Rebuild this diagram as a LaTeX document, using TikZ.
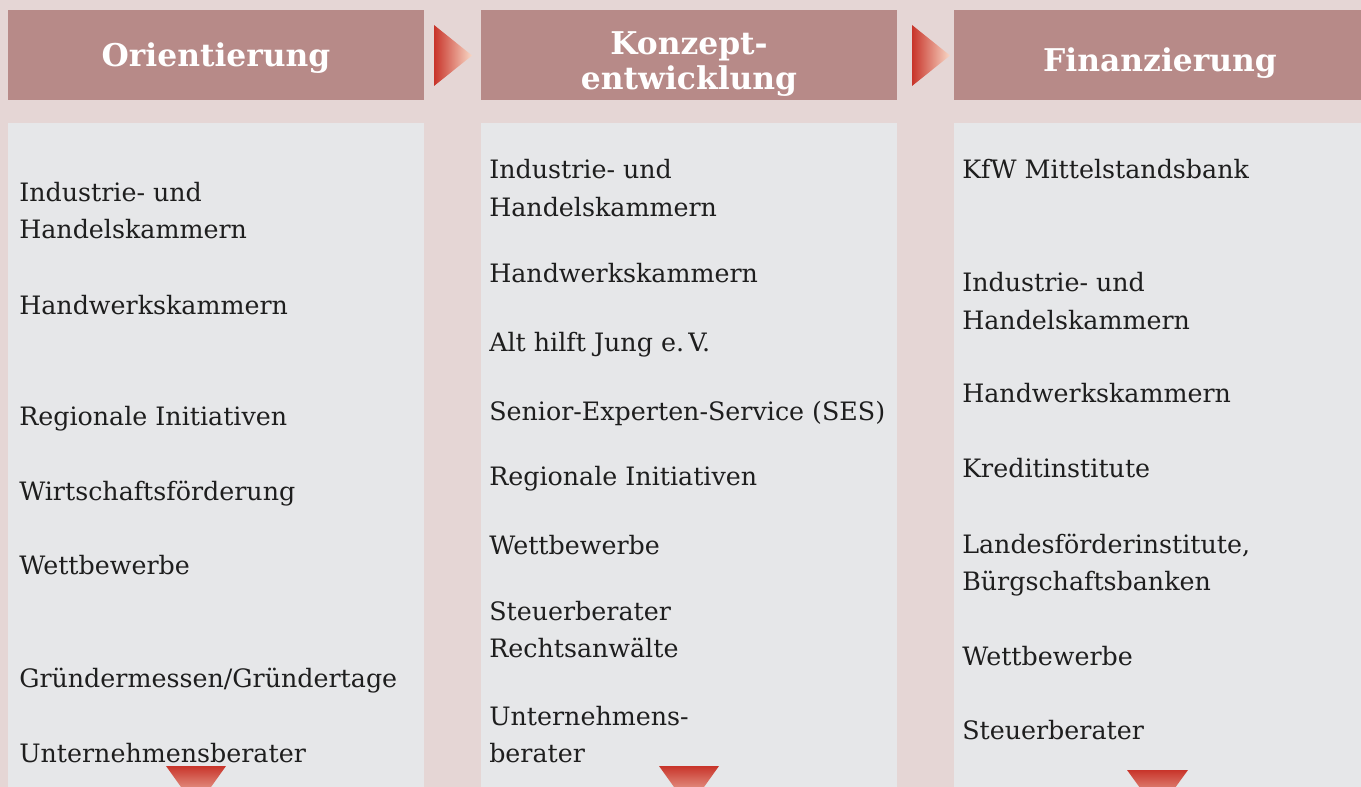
\documentclass[tikz,border=0pt]{standalone}
\usepackage{fontspec}
\setmainfont{DejaVu Serif}
\definecolor{bgc}{HTML}{E5D6D5}
\definecolor{hdrc}{HTML}{B78A88}
\definecolor{colc}{HTML}{E6E7E9}
\definecolor{triA}{HTML}{C8342A}
\definecolor{triB}{HTML}{F8D8C6}
\definecolor{txtc}{HTML}{1E1E1E}
\begin{document}
\begin{tikzpicture}[x=0.75pt,y=-0.75pt,
  item/.style={anchor=mid west, inner sep=0, font=\fontsize{19}{22}\selectfont, text=txtc, yshift=-3.7pt},
  head/.style={text=white, font=\bfseries\fontsize{23.5}{26.5}\selectfont, inner sep=0, align=center, yshift=-2.3pt},
  hdrbox/.style={fill=hdrc},
  colbox/.style={fill=colc},
  rtri/.style={left color=triA, right color=triB},
  dtri/.style={top color=triA, bottom color=triB}]
\useasboundingbox (0,0) rectangle (1361,787);
\clip (0,0) rectangle (1361,787);
\fill[bgc] (0,0) rectangle (1361,787);
% headers
\path[hdrbox] (8,10) rectangle (424,100);
\path[hdrbox] (481,10) rectangle (897,100);
\path[hdrbox] (954,10) rectangle (1361,100);
% columns
\path[colbox] (8,123) rectangle (424,787);
\path[colbox] (481,123) rectangle (897,787);
\path[colbox] (954,123) rectangle (1361,787);
% arrows between headers
\shade[rtri] (434,25) -- (434,86) -- (472,55.5) -- cycle;
\shade[rtri] (912,25) -- (912,86) -- (950,55.5) -- cycle;
% header texts
\node[head] (h1) at (216,55) {Orientierung};
\node[head] (h2) at (689,61) {Konzept-\\entwicklung};
\node[head] (h3) at (1160,60) {Finanzierung};
% column 1
\node[item] (a1) at (19,193) {Industrie- und};
\node[item] (a1b) at (19,230) {Handelskammern};
\node[item] (a2) at (19,306) {Handwerkskammern};
\node[item] (a3) at (19,417) {Regionale Initiativen};
\node[item] (a4) at (19,492) {Wirtschaftsförderung};
\node[item] (a5) at (19,566) {Wettbewerbe};
\node[item] (a6) at (19,679) {Gründermessen/Gründertage};
\node[item] (a7) at (19,754) {Unternehmensberater};
% column 2
\node[item] (b1) at (489,170) {Industrie- und};
\node[item] (b1b) at (489,208) {Handelskammern};
\node[item] (b2) at (489,274) {Handwerkskammern};
\node[item] (b3) at (489,343) {Alt hilft Jung e.\,V.};
\node[item] (b4) at (489,412) {Senior-Experten-Service (SES)};
\node[item] (b5) at (489,477) {Regionale Initiativen};
\node[item] (b6) at (489,546) {Wettbewerbe};
\node[item] (b7) at (489,612) {Steuerberater};
\node[item] (b7b) at (489,649) {Rechtsanwälte};
\node[item] (b8) at (489,717) {Unternehmens-};
\node[item] (b8b) at (489,754) {berater};
% column 3
\node[item] (c1) at (962,170) {KfW Mittelstandsbank};
\node[item] (c2) at (962,283) {Industrie- und};
\node[item] (c2b) at (962,321) {Handelskammern};
\node[item] (c3) at (962,394) {Handwerkskammern};
\node[item] (c4) at (962,469) {Kreditinstitute};
\node[item] (c5) at (962,545) {Landesförderinstitute,};
\node[item] (c5b) at (962,582) {Bürgschaftsbanken};
\node[item] (c6) at (962,657) {Wettbewerbe};
\node[item] (c7) at (962,731) {Steuerberater};
% down arrows
\shade[dtri] (166,766) -- (226,766) -- (196,808) -- cycle;
\shade[dtri] (659,766) -- (719,766) -- (689,808) -- cycle;
\shade[dtri] (1127,770) -- (1188,770) -- (1157.5,812) -- cycle;
\end{tikzpicture}
\end{document}
